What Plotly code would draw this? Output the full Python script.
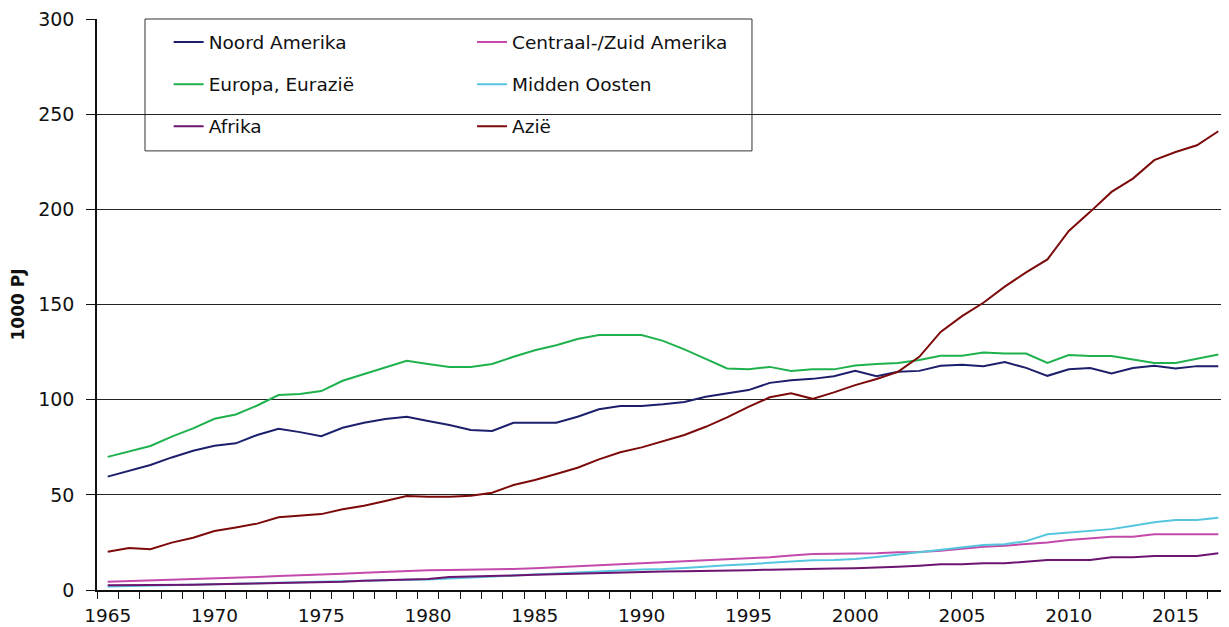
import plotly.graph_objects as go

years = list(range(1965, 2018))

noord_amerika = [59.6, 62.7, 65.7, 69.7, 73.2, 75.8, 77.1, 81.5, 84.8, 83.0,
                 80.9, 85.3, 87.9, 89.9, 91.1, 88.8, 86.7, 84.1, 83.6, 87.9,
                 87.9, 87.9, 91.1, 95.0, 96.7, 96.7, 97.6, 98.9, 101.6, 103.4,
                 105.1, 108.9, 110.3, 111.0, 112.4, 115.2, 112.4, 114.7, 115.2, 117.9,
                 118.4, 117.7, 119.8, 116.8, 112.6, 116.0, 116.7, 113.9, 116.7, 117.9,
                 116.5, 117.7, 117.7]
centraal_zuid = [4.4, 4.7, 5.0, 5.4, 5.7, 6.0, 6.3, 6.8, 7.3, 7.6,
                 7.9, 8.5, 9.1, 9.6, 10.2, 10.4, 10.5, 10.6, 10.7, 11.1,
                 11.5, 12.0, 12.5, 13.0, 13.4, 14.0, 14.4, 14.9, 15.4, 16.0,
                 16.4, 17.2, 18.2, 18.9, 19.0, 19.1, 19.3, 19.8, 20.0, 20.7,
                 21.9, 22.8, 23.3, 24.2, 25.0, 26.3, 27.1, 28.0, 28.0, 29.3,
                 29.3, 29.3, 29.3]
europa = [70.0, 72.7, 75.7, 80.6, 85.0, 90.0, 92.3, 97.0, 102.5, 103.0,
          104.6, 110.0, 113.5, 117.0, 120.5, 118.8, 117.3, 117.3, 118.8, 122.6,
          126.0, 128.7, 132.0, 134.0, 134.0, 134.0, 131.0, 126.5, 121.5, 116.5,
          116.0, 117.3, 115.2, 116.0, 116.0, 118.0, 118.8, 119.4, 120.9, 123.1,
          123.1, 124.9, 124.3, 124.3, 119.4, 123.5, 123.0, 123.0, 121.2, 119.4,
          119.4, 121.7, 123.8]
midden_oosten = [1.8, 2.0, 2.1, 2.4, 2.7, 3.0, 3.3, 3.6, 3.9, 4.0,
                 4.2, 4.6, 5.0, 5.3, 5.4, 5.5, 6.0, 6.4, 6.9, 7.5,
                 8.2, 8.6, 9.0, 9.6, 10.2, 10.8, 11.0, 11.6, 12.4, 13.0,
                 13.6, 14.3, 15.0, 15.6, 15.8, 16.3, 17.4, 18.6, 20.1, 21.0,
                 22.4, 23.6, 24.0, 25.7, 29.3, 30.3, 31.2, 32.0, 33.8, 35.6,
                 36.8, 36.8, 38.0]
afrika = [2.5, 2.5, 2.6, 2.7, 2.8, 3.0, 3.1, 3.4, 3.7, 3.8,
          4.0, 4.3, 4.9, 5.2, 5.5, 5.8, 6.8, 7.0, 7.3, 7.6,
          8.0, 8.3, 8.5, 9.0, 9.3, 9.6, 9.7, 9.8, 9.9, 10.2,
          10.4, 10.7, 11.0, 11.2, 11.3, 11.5, 11.8, 12.2, 12.8, 13.5,
          13.5, 14.0, 14.0, 14.9, 15.8, 15.8, 15.8, 17.2, 17.2, 17.9,
          17.9, 17.9, 19.3]
azie = [20.1, 22.1, 21.4, 24.9, 27.5, 31.0, 32.9, 34.9, 38.2, 39.2,
        39.9, 42.4, 44.3, 46.8, 49.4, 49.0, 49.0, 49.6, 51.1, 55.2,
        57.8, 61.0, 64.3, 68.7, 72.4, 75.0, 78.3, 81.5, 85.8, 90.8,
        96.3, 101.3, 103.4, 100.5, 103.9, 107.7, 110.9, 114.7, 122.6, 135.7,
        144.0, 151.0, 159.5, 167.0, 173.8, 188.8, 198.8, 209.3, 216.3, 226.0,
        230.3, 233.8, 241.2]

year_labels = [1965, 1970, 1975, 1980, 1985, 1990, 1995, 2000, 2005, 2010, 2015]
y_ticks = [0, 50, 100, 150, 200, 250, 300]

# name, values, colour, which legend column
series = [
    ("Noord Amerika", noord_amerika, "#1c1f6b", "legend"),
    ("Centraal-/Zuid Amerika", centraal_zuid, "#c349ab", "legend2"),
    ("Europa, Eurazië", europa, "#1fb14e", "legend"),
    ("Midden Oosten", midden_oosten, "#55c6dd", "legend2"),
    ("Afrika", afrika, "#6c1470", "legend"),
    ("Azië", azie, "#7d0a0a", "legend2"),
]

fig = go.Figure()
for name, vals, col, leg in series:
    fig.add_trace(go.Scatter(x=years, y=vals, name=name, mode="lines",
                             line=dict(color=col, width=2),
                             legend=leg, legendgroup=name))

font = dict(family="DejaVu Sans", size=18.5, color="#111")
tickfont = dict(family="DejaVu Sans", size=19, color="#111")
xtickfont = dict(family="DejaVu Sans", size=18.5, color="#111")
leg_style = dict(font=font, bgcolor="rgba(0,0,0,0)", borderwidth=0,
                 tracegroupgap=15, xanchor="left", yanchor="top", itemclick=False)

# page body has an 8px margin, so the figure is 8px smaller than the window
fig.update_layout(
    width=1221, height=619,
    margin=dict(l=89, r=0, t=11, b=37),
    paper_bgcolor="white", plot_bgcolor="white",
    font=font,
    legend=dict(x=0.0633, y=0.992, **leg_style),
    legend2=dict(x=0.3313, y=0.992, **leg_style),
    shapes=[dict(type="rect", xref="paper", yref="paper",
                 x0=0.0424, x1=0.5786, y0=0.769, y1=1.0,
                 line=dict(color="#333", width=1), fillcolor="white",
                 layer="between")],
)

fig.update_xaxes(
    range=[1964.5, 2017.5],
    tickvals=year_labels,
    ticks="", showline=True, linecolor="#111", linewidth=1.5,
    showgrid=False, zeroline=False, ticklabelstandoff=8, automargin=False,
    tickfont=xtickfont,
    minor=dict(ticks="outside", ticklen=7, tickcolor="#111",
               tickmode="linear", tick0=1964.5, dtick=1, showgrid=False),
)
fig.update_yaxes(
    range=[0, 300.2], tickvals=y_ticks,
    showline=True, linecolor="#111", linewidth=1.5,
    ticks="outside", ticklen=9, tickcolor="#111",
    showgrid=True, gridcolor="#222", gridwidth=1, zeroline=False,
    ticklabelstandoff=8, automargin=False, tickfont=tickfont,
    title=dict(text="<b>1000 PJ</b>", font=dict(family="DejaVu Sans", size=17, color="#111"),
               standoff=12),
)

fig.write_html("out.html")
